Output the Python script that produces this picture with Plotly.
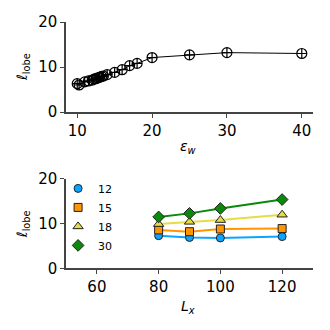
import plotly.graph_objects as go

# ── Data ──────────────────────────────────────────────────────────────────────
eps_w = [10, 10.25, 11, 11.5, 12, 12.25, 12.5, 12.75, 13, 13.25, 13.5, 14,
         15, 16, 17, 18, 20, 25, 30, 40]
lobe_eps = [6.3, 6.0, 6.7, 6.9, 7.1, 7.3, 7.4, 7.6, 7.7, 7.9, 8.0, 8.3,
            8.8, 9.4, 10.3, 10.8, 12.1, 12.7, 13.2, 13.0]

Lx = [80, 90, 100, 120]
series_names = ["12", "15", "18", "30"]
lobe_12 = [7.3, 6.9, 6.8, 7.1]
lobe_15 = [8.6, 8.2, 8.8, 8.9]
lobe_18 = [9.9, 10.4, 10.8, 12.0]
lobe_30 = [11.5, 12.3, 13.4, 15.4]

# ── Style ─────────────────────────────────────────────────────────────────────
FONT = "DejaVu Sans"
SPINE = "#444444"
COLORS = ["#0aa5ff", "#ff9500", "#e6dc46", "#0a8a0a"]
SYMBOLS = ["circle", "square", "triangle-up", "diamond"]
SIZES = [8, 8, 9, 9]

fig = go.Figure()

# top panel
fig.add_trace(go.Scatter(
    x=eps_w, y=lobe_eps, mode="lines+markers",
    line=dict(color="black", width=1),
    marker=dict(symbol="circle-cross-open", size=10, color="black",
                line=dict(width=1.2, color="black")),
    showlegend=False, xaxis="x", yaxis="y",
))

# bottom panel: lines first, then markers (legend only shows markers)
for vals, c in zip([lobe_12, lobe_15, lobe_18, lobe_30], COLORS):
    fig.add_trace(go.Scatter(
        x=Lx, y=vals, mode="lines", line=dict(color=c, width=2),
        showlegend=False, hoverinfo="skip", xaxis="x2", yaxis="y2",
    ))
for name, vals, c, s, sz in zip(series_names, [lobe_12, lobe_15, lobe_18, lobe_30],
                                COLORS, SYMBOLS, SIZES):
    fig.add_trace(go.Scatter(
        x=Lx, y=vals, mode="markers", name=name,
        marker=dict(symbol=s, size=sz, color=c,
                    line=dict(width=1, color="#222222")),
        xaxis="x2", yaxis="y2",
    ))


def _axis(**kw):
    d = dict(
        showline=True, linecolor=SPINE, linewidth=1.5,
        ticks="outside", ticklen=4, tickwidth=1.2, tickcolor=SPINE,
        showgrid=False, zeroline=False, mirror=False,
        tickfont=dict(family=FONT, size=15, color="black"),
        fixedrange=True, automargin=False,
    )
    d.update(kw)
    return d


fig.update_layout(
    autosize=True,
    margin=dict(l=0, r=0, t=0, b=0),
    paper_bgcolor="white", plot_bgcolor="white",
    font=dict(family=FONT, color="black"),
    xaxis=_axis(domain=[0.2, 0.9485], range=[8.5, 41.5],
                tickvals=[10, 20, 30, 40], anchor="y"),
    yaxis=_axis(domain=[0.6606, 0.9333], range=[0, 20],
                tickvals=[0, 10, 20], anchor="x"),
    xaxis2=_axis(domain=[0.2, 0.9485], range=[50, 130],
                 tickvals=[60, 80, 100, 120], anchor="y2"),
    yaxis2=_axis(domain=[0.187, 0.4576], range=[0, 20],
                 tickvals=[0, 10, 20], anchor="x2"),
    legend=dict(x=0.176, y=0.473, xanchor="left", yanchor="top",
                bgcolor="rgba(0,0,0,0)", itemwidth=30,
                font=dict(family=FONT, size=11, color="black")),
)

# axis titles
label_font = dict(family=FONT, size=14, color="black")
for txt, x, y, ang in [
    ("<i>ℓ</i><sub>lobe</sub>", 0.07, 0.797, -90),
    ("<i>ℓ</i><sub>lobe</sub>", 0.07, 0.321, -90),
    ("<i>ε</i><sub><i>w</i></sub>", 0.57, 0.5545, 0),
    ("<i>L</i><sub><i>x</i></sub>", 0.57, 0.0697, 0),
]:
    fig.add_annotation(text=txt, x=x, y=y, xref="paper", yref="paper",
                       xanchor="center", yanchor="middle",
                       showarrow=False, textangle=ang, font=label_font)

fig.write_html(
    "out.html",
    config={"displayModeBar": False, "responsive": True},
    default_width="330px", default_height="330px",
    post_script=("document.documentElement.style.margin='0';"
                 "document.body.style.margin='0';"
                 "document.body.style.overflow='hidden';"
                 "Plotly.Plots.resize(document.getElementById('{plot_id}'));"),
)
